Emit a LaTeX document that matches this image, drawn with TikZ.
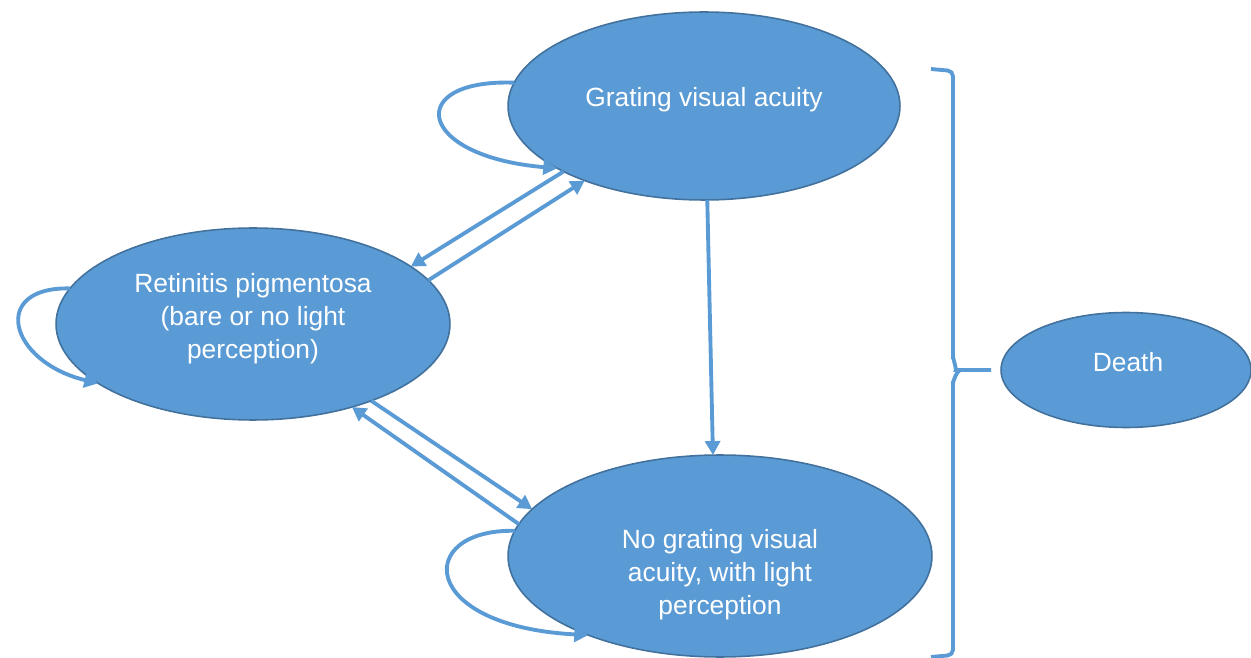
\documentclass[tikz,border=0pt]{standalone}
\usepackage{fontspec}
\setmainfont{Liberation Sans}
\usetikzlibrary{shapes.geometric,arrows.meta}
\definecolor{stfill}{HTML}{5B9BD5}
\definecolor{stline}{HTML}{41719C}
\begin{document}
\begin{tikzpicture}[x=0.02cm,y=-0.02cm,
  state/.style={ellipse,fill=stfill,draw=stline,line width=0.9pt,inner sep=0pt,outer sep=0pt},
  txt/.style={text=white,align=center,font=\fontsize{15}{18.8}\selectfont},
  arr/.style={draw=stfill,line width=2.2pt,-{Triangle[length=0.28cm,width=0.3cm]}},
  brace/.style={draw=stfill,line width=2.2pt}]
\useasboundingbox (0,0) rectangle (1251,658);
% states
\node[state,minimum width=7.84cm,minimum height=3.76cm] (grat) at (704,106) {};
\node[state,minimum width=7.88cm,minimum height=3.84cm] (rp) at (253,324) {};
\node[state,minimum width=8.48cm,minimum height=4.04cm] (nograt) at (720,556) {};
\node[state,minimum width=5.0cm,minimum height=2.3cm] (death) at (1126,370) {};
\node[txt] (grat-t) at (704,100) {Grating visual acuity};
\node[txt] (rp-t) at (253,319) {Retinitis pigmentosa\\(bare or no light\\perception)};
\node[txt] (nograt-t) at (720,575) {No grating visual\\acuity, with light\\perception};
\node[txt] (death-t) at (1128,362) {Death};
% transitions
\draw[arr] (grat.205) -- (rp.20);
\draw[arr] (rp.14) -- (grat.212);
\draw[arr] (rp.-33) -- (nograt.166);
\draw[arr] (nograt.171) -- (rp.-40);
\draw[arr] (grat.-88) -- (nograt.94.5);
% self loops
\draw[arr] (grat.173) .. controls +(-110,-4) and +(-142,-12) .. (grat.203);
\draw[arr] (rp.169) .. controls +(-80,-2) and +(-90,-22) .. (rp.201);
\draw[arr] (nograt.173) .. controls +(-100,-2) and +(-171,-9) .. (nograt.211);
% bracket to death
\draw[brace,rounded corners=3pt] (931,69) -- (953,71) -- (953,362)
  to[out=90,in=180] (961,370) -- (991,370);
\draw[brace,rounded corners=3pt] (961,370) to[out=180,in=-90] (953,378)
  -- (953,655) -- (931,657);
\end{tikzpicture}
\end{document}
